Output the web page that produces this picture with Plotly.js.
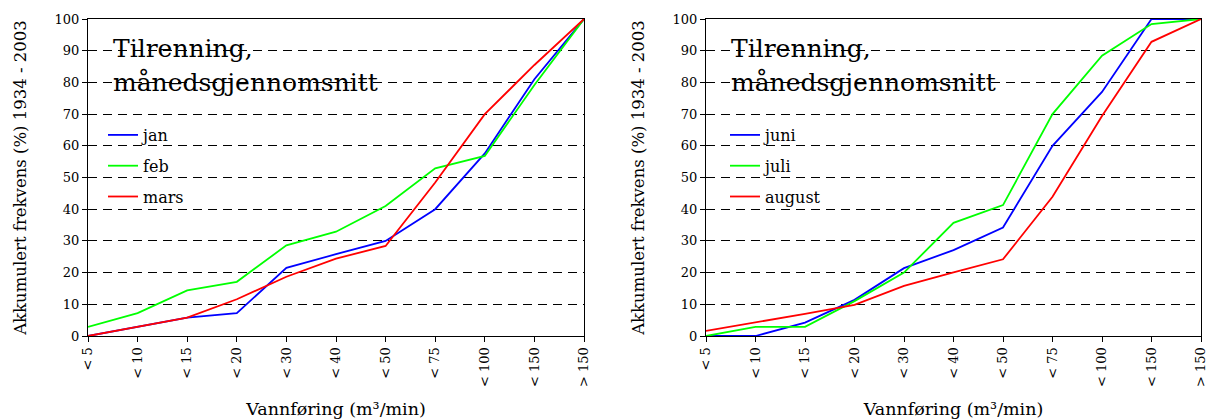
<!DOCTYPE html>
<html>
<head>
<meta charset="utf-8">
<script src="https://cdn.plot.ly/plotly-3.0.1.min.js"></script>
<style>html,body{margin:0;padding:0;background:#fff;}#chart{width:1208px;height:419px;}</style>
</head>
<body>
<div id="chart"></div>
<script>
const categories = ['< 5','< 10','< 15','< 20','< 30','< 40','< 50','< 75','< 100','< 150','> 150'];
const yTicks = [0,10,20,30,40,50,60,70,80,90,100];
const jan    = [0, 3, 5.8, 7.2, 21.5, 25.8, 30, 40, 57.6, 81, 100];
const feb    = [2.9, 7.2, 14.4, 17.1, 28.6, 32.9, 41, 52.9, 56.8, 79.2, 100];
const mars   = [0, 3, 5.8, 11.6, 18.7, 24.4, 28.4, 48.4, 70, 85.5, 100];
const juni   = [0, 0, 4.2, 11.4, 21.4, 27.1, 34.2, 60, 77, 100, 100];
const juli   = [0, 2.9, 2.9, 11, 20, 35.7, 41.3, 70, 88.4, 98.4, 100];
const august = [1.6, 4.2, 7.0, 9.8, 15.8, 20.1, 24.2, 43.9, 69.4, 92.8, 100];

const W = 1208, H = 419;
const px = v => v / W;
const py = v => 1 - v / H;
const FONT = 'DejaVu Serif';
const BLUE = '#0000ff', GREEN = '#00ff00', RED = '#ff0000';

function tr(name, y, color, xa, ya, lg) {
  return {type:'scatter', mode:'lines', name:name, x:categories, y:y,
    xaxis:xa, yaxis:ya, legend:lg, legendgroup:name,
    line:{color:color, width:1.8}};
}
const data = [
  tr('jan', jan, BLUE, 'x', 'y', 'legend'),
  tr('feb', feb, GREEN, 'x', 'y', 'legend'),
  tr('mars', mars, RED, 'x', 'y', 'legend'),
  tr('juni', juni, BLUE, 'x2', 'y2', 'legend2'),
  tr('juli', juli, GREEN, 'x2', 'y2', 'legend2'),
  tr('august', august, RED, 'x2', 'y2', 'legend2')
];

function xax(domain, anchor) {
  return {domain:domain, anchor:anchor, type:'category', range:[0,10],
    tickangle:-90, ticks:'outside', ticklen:5, tickcolor:'#000',
    tickfont:{family:FONT, size:13, color:'#000'},
    showgrid:false, zeroline:false, showline:true, mirror:true, linecolor:'#000', linewidth:1,
    title:{text:'Vannføring (m³/min)', font:{family:FONT, size:17.5, color:'#000'}, standoff:19}};
}
function yax(anchor) {
  return {domain:[py(336), py(19)], anchor:anchor, range:[0,100],
    tickvals:yTicks, ticks:'outside', ticklen:5, tickcolor:'#000',
    tickfont:{family:FONT, size:13, color:'#000'},
    showgrid:true, gridcolor:'#000', gridwidth:1, griddash:'9px,6px',
    zeroline:false, showline:true, mirror:true, linecolor:'#000', linewidth:1,
    title:{text:'Akkumulert frekvens (%) 1934 - 2003', font:{family:FONT, size:16.5, color:'#000'}, standoff:23}};
}
function legend(x) {
  return {x:x, y:py(118), xanchor:'left', yanchor:'top', bgcolor:'rgba(0,0,0,0)',
    font:{family:FONT, size:16, color:'#000'}, traceorder:'grouped', tracegroupgap:7,
    itemwidth:30};
}
function titleAnn(x0) {
  return [
    {xref:'paper', yref:'paper', x:px(x0), y:py(48), xanchor:'left', yanchor:'middle',
     text:'Tilrenning,', showarrow:false, font:{family:FONT, size:25, color:'#000'}},
    {xref:'paper', yref:'paper', x:px(x0), y:py(82), xanchor:'left', yanchor:'middle',
     text:'månedsgjennomsnitt', showarrow:false, font:{family:FONT, size:25, color:'#000'}}
  ];
}

const layout = {
  width:W, height:H, margin:{l:0, r:0, t:0, b:0},
  font:{family:FONT, color:'#000'},
  paper_bgcolor:'#fff', plot_bgcolor:'#fff', showlegend:true,
  xaxis: xax([px(88), px(584)], 'y'),
  yaxis: yax('x'),
  xaxis2: xax([px(706), px(1201)], 'y2'),
  yaxis2: yax('x2'),
  legend: legend(px(103)),
  legend2: legend(px(725)),
  shapes: [
    {type:'rect', layer:'below', xref:'x domain', yref:'y', x0:0, x1:0.585, y0:75, y1:97,
     fillcolor:'#fff', line:{width:0}},
    {type:'rect', layer:'below', xref:'x2 domain', yref:'y2', x0:0, x1:0.588, y0:75, y1:97,
     fillcolor:'#fff', line:{width:0}}
  ],
  annotations: titleAnn(111).concat(titleAnn(729))
};

Plotly.newPlot('chart', data, layout, {displayModeBar:false});
</script>
</body>
</html>
